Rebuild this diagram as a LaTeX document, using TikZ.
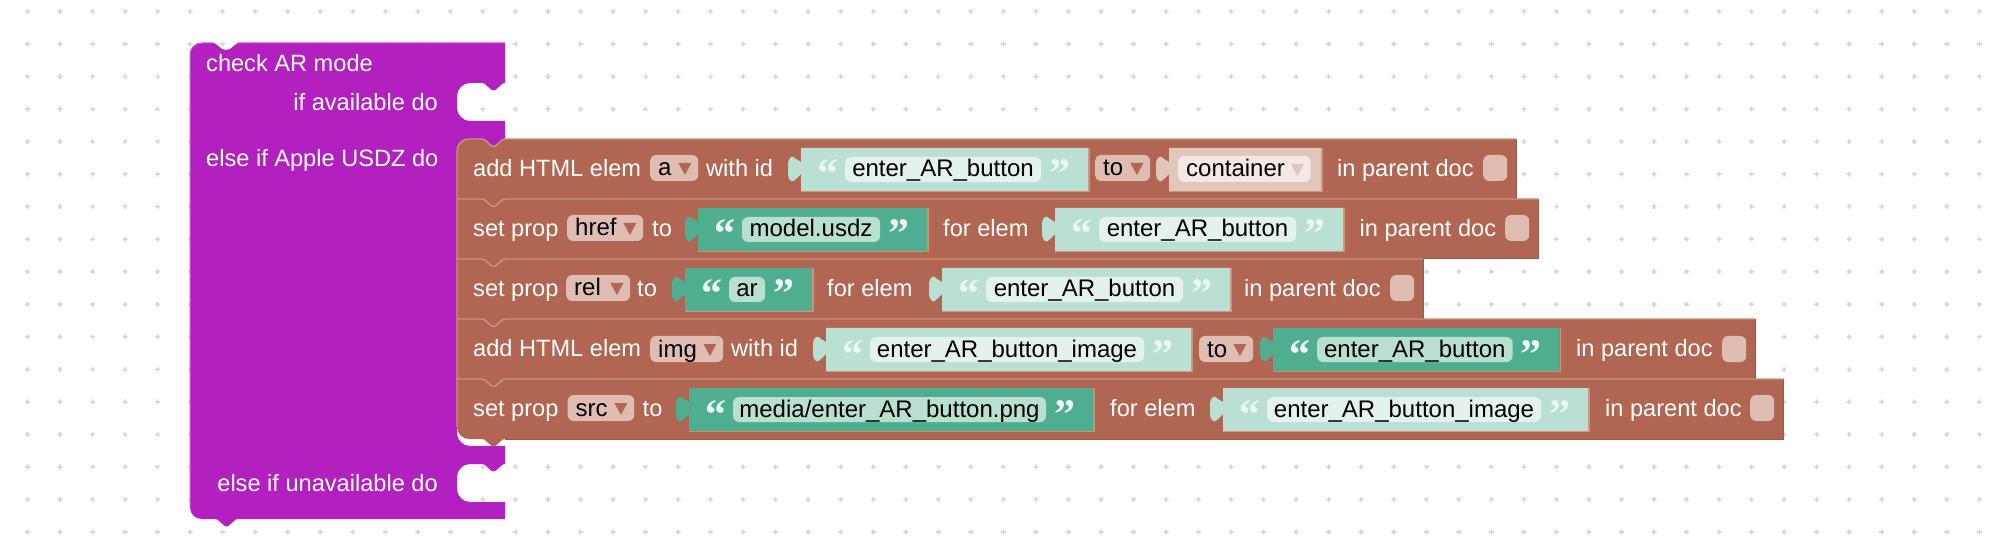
\documentclass[tikz,border=0pt]{standalone}
\usepackage{fontspec}
\setmainfont{Liberation Sans}
\newfontfamily\quotefont{Liberation Serif}
\usetikzlibrary{positioning}

\definecolor{hatcolor}{HTML}{B220BF}
\definecolor{hatlight}{HTML}{C65ACF}
\definecolor{rowcolor}{HTML}{B06650}
\definecolor{rowlight}{HTML}{CB9382}
\definecolor{rowdark}{HTML}{9C5A46}
\definecolor{palefill}{HTML}{BAE0D3}
\definecolor{palefield}{HTML}{E3F2EC}
\definecolor{palequote}{HTML}{EAF6F1}
\definecolor{greenfill}{HTML}{4FAE90}
\definecolor{greenfield}{HTML}{B9DFD1}
\definecolor{greenquote}{HTML}{EDF7F3}
\definecolor{shadefill}{HTML}{E1C6BA}
\definecolor{shadefield}{HTML}{F3E8E3}
\definecolor{dropfill}{HTML}{DFBDB2}

\tikzstyle{label text}=[anchor=base west,inner sep=0pt,yshift=-0.7pt,text=white,font=\fontsize{23.6}{28}\selectfont]
\tikzstyle{field box}=[rounded corners=6pt,inner sep=0pt,minimum height=25pt,text height=20pt,text depth=5pt,font=\fontsize{24}{28}\selectfont]
\tikzstyle{drop box}=[rounded corners=6pt,fill=dropfill,anchor=west,inner xsep=8pt,inner ysep=0pt,text height=21pt,text depth=5pt,align=left,font=\fontsize{24}{28}\selectfont]
\tikzstyle{check box}=[rounded corners=6pt,fill=dropfill,anchor=west,minimum width=24pt,minimum height=26pt,inner sep=0pt]
\tikzstyle{quote mark}=[anchor=base,inner sep=0pt,font=\fontsize{42}{42}\quotefont\bfseries]

% notch of a row, left to right and right to left
\newcommand{\notchright}{.. controls +(2,0) and +(-1,-1) .. ++(4,2) -- ++(5,4.5) .. controls +(1,1) and +(-1,0) .. ++(2.5,1) .. controls +(1,0) and +(-1,1) .. ++(2.5,-1) -- ++(5,-4.5) .. controls +(1,-1) and +(-2,0) .. ++(4,-2)}
\newcommand{\notchleft}{.. controls +(-2,0) and +(1,-1) .. ++(-4,2) -- ++(-5,4.5) .. controls +(-1,1) and +(1,0) .. ++(-2.5,1) .. controls +(-1,0) and +(1,1) .. ++(-2.5,-1) -- ++(-5,-4.5) .. controls +(-1,-1) and +(2,0) .. ++(-4,-2)}

% row: top y, right x, radius top left, radius bottom left
\newcommand{\stackrow}[4]{
  \fill[rowcolor] (457+#3,#1) -- (482,#1) \notchright -- (#2,#1) -- (#2,#1+60) -- (505,#1+60) \notchleft
    -- (457+#4,#1+60) .. controls +(-#4*0.55,0) and +(0,#4*0.55) .. (457,#1+60-#4) -- (457,#1+#3)
    .. controls +(0,-#3*0.55) and +(-#3*0.55,0) .. (457+#3,#1) -- cycle;
  \draw[rowdark,line width=1pt] (#2,#1) -- (#2,#1+60) -- (505,#1+60);
  \draw[rowlight,line width=1.4pt] (457,#1+60-#4) -- (457,#1+#3)
    .. controls +(0,-#3*0.55) and +(-#3*0.55,0) .. (457+#3,#1) -- (482,#1) \notchright -- (#2,#1);
}
% value block: left x, right x, row top, colour
\newcommand{\valblock}[4]{
  \draw[rowlight,line width=1.4pt] (#1,#3+52.5) -- (#2+1,#3+52.5) -- (#2+1,#3+9);
  \fill[#4] (#1,#3+9) -- (#2,#3+9) -- (#2,#3+52) -- (#1,#3+52) -- (#1,#3+35)
    -- (#1-5,#3+40) .. controls +(-2,2) and +(2,1) .. (#1-10,#3+42) .. controls +(-2,-1) and +(0,3) .. (#1-13,#3+35)
    -- (#1-13,#3+25) .. controls +(0,-3) and +(-2,1) .. (#1-10,#3+18) .. controls +(2,-1) and +(-2,-2) .. (#1-5,#3+20)
    -- (#1,#3+23) -- cycle;
}
% text block: name, left x, right x, row top, colours, text
\newcommand{\strblock}[6]{
  \valblock{#2}{#3}{#4}{#5fill}
  \node[field box,fill=#5field,minimum width=#3-#2-91] (#1) at ({(#2+#3-3)/2},#4+30.5) {#6};
  \node[quote mark,text=#5quote] (#1 open) at (#2+26.5,#4+49) {“};
  \node[quote mark,text=#5quote] (#1 close) at (#3-28.5,#4+49) {”};
}
% little arrow of a drop box
\newcommand{\droparrow}[2]{\fill[#2] ([shift={(-20,-5)}]#1.east) -- ++(13,0) -- ++(-6.5,12) -- cycle;}

\begin{document}
\begin{tikzpicture}[x=1pt,y=-1pt]
\useasboundingbox (0,0) rectangle (2000,545);

\foreach \i in {0,...,60}
  \foreach \j in {0,...,16}
    \fill[black!16] (27.5+\i*32.53-0.8,11.5+\j*32.53-2.5) rectangle ++(1.6,5)
      (27.5+\i*32.53-2.5,11.5+\j*32.53-0.8) rectangle ++(5,1.6);

\fill[hatcolor] (202,43) -- (213,43) .. controls +(2,0) and +(-1,-1) .. ++(4,2) -- ++(5,4) .. controls +(2,1) and +(-2,0) .. ++(4,1)
  .. controls +(2,0) and +(-2,1) .. ++(4,-1) -- ++(5,-4) .. controls +(1,-1) and +(-2,0) .. ++(4,-2)
  -- (505,43) -- (505,83) \notchleft -- (470,83) .. controls +(-7,0) and +(0,-7) .. (457,96) -- (457,108)
  .. controls +(0,7) and +(-7,0) .. (470,121) -- (505,121) -- (505,140) \notchleft -- (470,140)
  .. controls +(-7,0) and +(0,-7) .. (457,153) -- (457,433) .. controls +(0,7) and +(-7,0) .. (470,446) -- (505,446)
  -- (505,464) \notchleft -- (470,464) .. controls +(-7,0) and +(0,-7) .. (457,477) -- (457,489)
  .. controls +(0,7) and +(-7,0) .. (470,502) -- (505,502) -- (505,519) -- (238,519) \notchleft -- (202,519)
  .. controls +(-7,0) and +(0,7) .. (190,507) -- (190,55) .. controls +(0,-7) and +(-7,0) .. (202,43) -- cycle;
\draw[hatlight,line width=1pt] (190,507) -- (190,55) .. controls +(0,-7) and +(-7,0) .. (202,43) -- (213,43)
  (238,43) -- (505,43);

\node[label text] (title) at (206,70.5) {check AR mode};
\node[label text,anchor=base east] (available) at (438,110) {if available do};
\node[label text] (usdz) at (206,165.5) {else if Apple USDZ do};
\node[label text,anchor=base east] (unavailable) at (438,490.5) {else if unavailable do};

\stackrow{139}{1516}{12}{0}
\stackrow{199}{1538.5}{0}{0}
\stackrow{259}{1423}{0}{0}
\stackrow{319}{1755}{0}{0}
\stackrow{379}{1783.5}{0}{12}

% first row
\node[label text] (add1) at (473,176) {add HTML elem};
\node[drop box,text width=32pt] (tag1) at (650,168) {a};
\droparrow{tag1}{rowcolor}
\node[label text] (id1) at (706,176) {with id};
\strblock{button1}{801}{1088}{139}{pale}{enter\_AR\_button}
\node[drop box,text width=39pt] (to1) at (1095,168) {to};
\droparrow{to1}{rowcolor}
\valblock{1169}{1321}{139}{shadefill}
\node[drop box,fill=shadefield,text width=116.5pt] (container) at (1178,169) {container};
\droparrow{container}{shadefill}
\node[label text] (doc1) at (1337,176) {in parent doc};
\node[check box] (check1) at (1483,168) {};

% second row
\node[label text] (set2) at (473,236) {set prop};
\node[drop box,text width=60pt] (tag2) at (567,228) {href};
\droparrow{tag2}{rowcolor}
\node[label text] (to2) at (652,236) {to};
\strblock{model}{698}{927}{199}{green}{model.usdz}
\node[label text] (for2) at (943,236) {for elem};
\strblock{button2}{1055}{1343}{199}{pale}{enter\_AR\_button}
\node[label text] (doc2) at (1359.5,236) {in parent doc};
\node[check box] (check2) at (1505,228) {};

% third row
\node[label text] (set3) at (473,296) {set prop};
\node[drop box,text width=48pt] (tag3) at (566,288) {rel};
\droparrow{tag3}{rowcolor}
\node[label text] (to3) at (637,296) {to};
\strblock{ar}{685}{812}{259}{green}{ar}
\node[label text] (for3) at (827,296) {for elem};
\strblock{button3}{942}{1230}{259}{pale}{enter\_AR\_button}
\node[label text] (doc3) at (1244,296) {in parent doc};
\node[check box] (check3) at (1390,288) {};

% fourth row
\node[label text] (add4) at (473,356) {add HTML elem};
\node[drop box,text width=57pt] (tag4) at (650,349) {img};
\droparrow{tag4}{rowcolor}
\node[label text] (id4) at (731,356) {with id};
\strblock{image4}{826}{1191}{319}{pale}{enter\_AR\_button\_image}
\node[drop box,text width=38pt] (to4) at (1199,349) {to};
\droparrow{to4}{rowcolor}
\strblock{button4}{1273}{1559.6}{319}{green}{enter\_AR\_button}
\node[label text] (doc4) at (1576,356) {in parent doc};
\node[check box] (check4) at (1722,349) {};

% fifth row
\node[label text] (set5) at (473,416) {set prop};
\node[drop box,text width=50.5pt] (tag5) at (567.5,408) {src};
\droparrow{tag5}{rowcolor}
\node[label text] (to5) at (642.5,416) {to};
\strblock{media}{689}{1093}{379}{green}{media/enter\_AR\_button.png}
\node[label text] (for5) at (1110,416) {for elem};
\strblock{image5}{1223}{1588}{379}{pale}{enter\_AR\_button\_image}
\node[label text] (doc5) at (1605,416) {in parent doc};
\node[check box] (check5) at (1750,408) {};
\end{tikzpicture}
\end{document}
